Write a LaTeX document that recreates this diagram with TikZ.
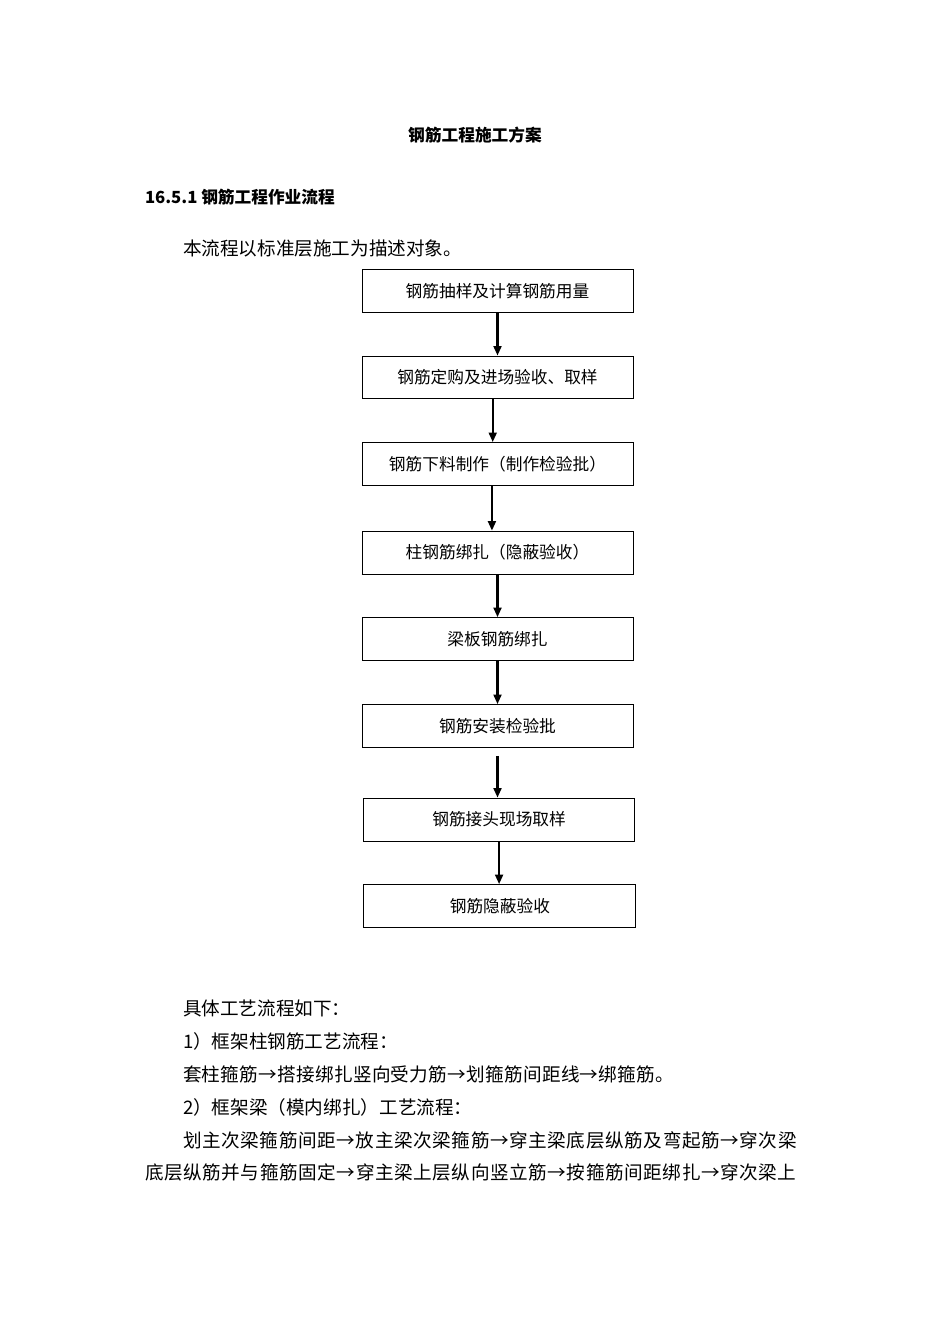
\documentclass[tikz,border=0pt]{standalone}
\usepackage{fontspec}
\setmainfont{Noto Sans CJK SC}
\usetikzlibrary{arrows.meta,positioning}

\tikzset{
  stepbox/.style={draw, line width=0.6pt, minimum width=170.4pt, minimum height=27pt,
    inner sep=0pt, font=\fontsize{10.5pt}{12pt}\selectfont},
  bodytext/.style={anchor=west, inner sep=0pt, font=\fontsize{11.7pt}{14pt}\selectfont},
  fulltext/.style={bodytext, font=\fontsize{11.7pt}{14pt}\selectfont\addfontfeatures{LetterSpace=#1}},
  headtext/.style={inner sep=0pt, font=\fontsize{10.5pt}{12pt}\selectfont\bfseries},
}

\begin{document}
\begin{tikzpicture}[x=0.6289pt, y=-0.6289pt, ->, >={Triangle[width=5pt,length=6pt]},
    line width=1.3pt, node distance=54.4pt]
    \useasboundingbox (0,0) rectangle (950,1344);

    % Headings
    \node[headtext] (title) at (475,135) {钢筋工程施工方案};
    \node[headtext, anchor=west] (sec) at (144,197) {16.5.1 钢筋工程作业流程};
    \node[bodytext] (intro) at (182,248) {本流程以标准层施工为描述对象。};

    % Steps
    \node (b1) [stepbox] at (497.5,291) {钢筋抽样及计算钢筋用量};
    \node (b2) [stepbox, below of=b1] {钢筋定购及进场验收、取样};
    \node (b3) [stepbox, below of=b2] {钢筋下料制作（制作检验批）};
    \node (b4) [stepbox, below of=b3, node distance=55.7pt] {柱钢筋绑扎（隐蔽验收）};
    \node (b5) [stepbox, below of=b4] {梁板钢筋绑扎};
    \node (b6) [stepbox, below of=b5, node distance=54.7pt] {钢筋安装检验批};
    \node (b7) [stepbox, below of=b6, node distance=58.8pt, xshift=1pt] {钢筋接头现场取样};
    \node (b8) [stepbox, below of=b7, minimum width=171pt, xshift=0.5pt] {钢筋隐蔽验收};
    \draw[-, line width=1.2pt] (b4.south west) -- (b4.south east);
    \draw[-, line width=1.2pt] (b7.south west) -- (b7.south east);

    % Edges
    \draw (b1) -- (b2);
    \draw ([xshift=-3pt]b2.south) -- ([xshift=-3pt]b3.north);
    \draw ([xshift=-3.5pt]b3.south) -- ([xshift=-3.5pt]b4.north);
    \draw (b4) -- (b5);
    \draw (b5) -- (b6);
    \draw[shorten <=5pt] (b6.south) -- (b6.south |- b7.north);
    \draw (b7.south) -- (b7.south |- b8.north);

    % Text below
    \node[bodytext] (t1) at (182,1008) {具体工艺流程如下：};
    \node[bodytext] (t2) at (182,1041) {1）框架柱钢筋工艺流程：};
    \node[fulltext=1.6] (t3) at (182,1074) {套柱箍筋→搭接绑扎竖向受力筋→划箍筋间距线→绑箍筋。};
    \node[bodytext] (t4) at (182,1107) {2）框架梁（模内绑扎）工艺流程：};
    \node[fulltext=3.2] (t5) at (182,1140) {划主次梁箍筋间距→放主梁次梁箍筋→穿主梁底层纵筋及弯起筋→穿次梁};
    \node[fulltext=3.1] (t6) at (144,1172) {底层纵筋并与箍筋固定→穿主梁上层纵向竖立筋→按箍筋间距绑扎→穿次梁上};
\end{tikzpicture}
\end{document}
